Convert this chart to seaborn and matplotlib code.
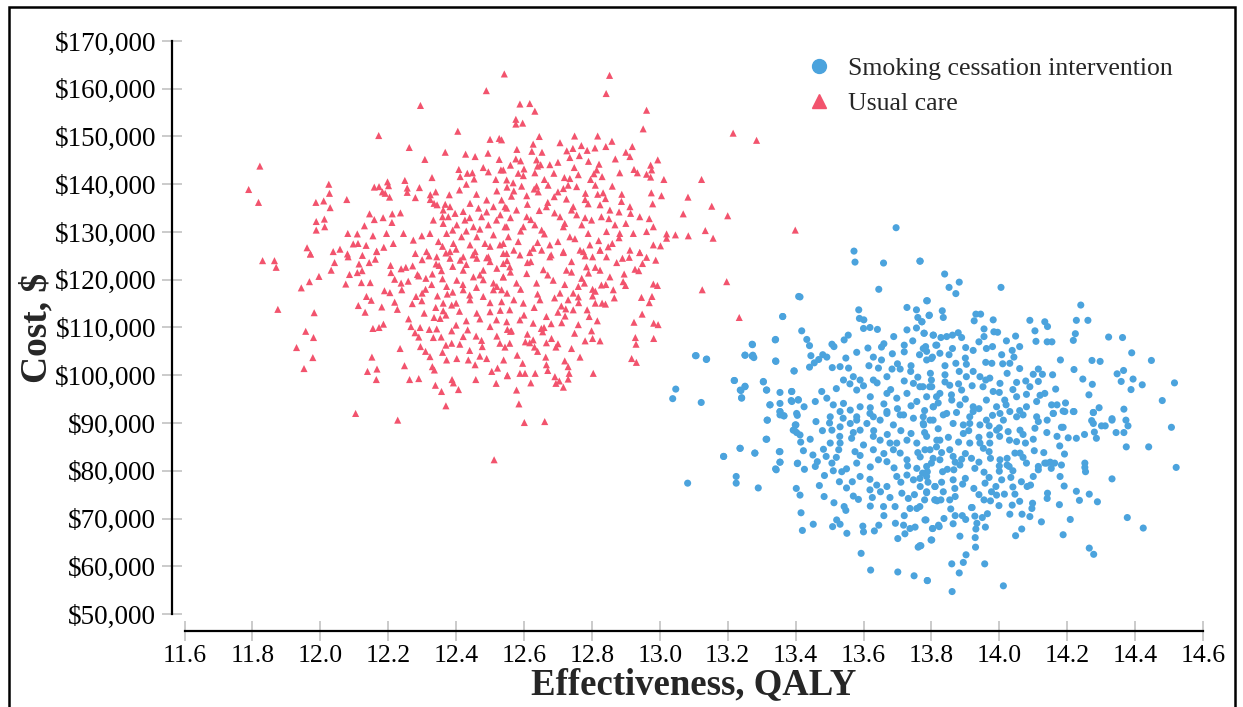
import pandas as pd
import seaborn as sns
import matplotlib.pyplot as plt
from matplotlib.patches import Rectangle
from matplotlib.lines import Line2D
from matplotlib.ticker import FuncFormatter

# (QALY, cost in $1000)
usual_care = [
    (12.542, 163.1), (12.489, 159.6), (12.295, 156.5), (12.405, 151.1), (12.172, 150.2), (12.262, 147.7),
    (12.500, 149.4), (12.527, 149.6), (12.368, 146.7), (12.308, 145.2), (12.428, 146.3), (12.456, 145.8),
    (12.494, 146.5), (12.527, 145.2), (11.822, 143.8), (11.789, 138.9), (11.818, 136.2), (12.025, 140.0),
    (12.027, 138.1), (12.029, 135.1), (11.987, 136.2), (12.010, 136.5), (11.988, 132.2), (12.012, 132.7),
    (11.988, 130.4), (12.013, 131.1), (12.078, 136.8), (11.961, 126.7), (11.971, 125.4), (12.159, 139.4),
    (12.173, 139.5), (12.198, 140.5), (12.201, 139.7), (12.183, 138.4), (12.191, 138.1), (12.204, 137.3),
    (12.249, 140.8), (12.256, 139.2), (12.256, 138.3), (12.292, 139.3), (12.280, 137.2), (12.329, 141.4),
    (12.324, 137.8), (12.324, 136.8), (12.344, 135.7), (12.368, 135.8), (12.408, 143.1), (12.412, 141.6),
    (12.433, 142.3), (12.448, 142.4), (12.453, 141.1), (12.480, 143.5), (12.495, 142.6), (12.517, 141.0),
    (12.539, 143.0), (12.145, 133.8), (12.159, 132.6), (12.185, 133.0), (12.212, 133.8), (12.236, 134.0),
    (12.130, 131.3), (12.081, 129.7), (12.109, 129.6), (12.155, 129.2), (12.195, 129.7), (12.211, 132.0),
    (12.038, 125.9), (12.058, 126.4), (12.080, 125.4), (12.097, 127.5), (12.111, 127.6), (12.135, 127.2),
    (12.166, 126.0), (12.187, 126.8), (12.215, 127.6), (12.245, 129.7), (12.274, 128.3), (12.299, 129.2),
    (12.335, 136.0), (12.362, 134.6), (12.382, 135.3), (12.397, 133.9), (12.421, 134.3), (12.441, 136.0),
    (12.466, 135.0), (12.490, 136.7), (12.510, 135.3), (12.534, 136.7), (12.549, 135.0), (12.333, 132.5),
    (12.362, 131.8), (12.377, 133.2), (12.402, 131.5), (12.426, 132.5), (12.451, 131.1), (12.475, 133.2),
    (12.495, 131.5), (12.519, 132.5), (12.544, 131.1), (12.323, 129.7), (12.348, 128.0), (12.372, 129.7),
    (12.392, 127.6), (12.416, 129.0), (12.441, 127.3), (12.461, 129.0), (12.485, 127.6), (12.510, 129.4),
    (12.529, 127.3), (12.554, 129.0), (12.313, 125.9), (12.343, 124.8), (12.382, 125.9), (12.421, 124.8),
    (12.456, 125.9), (12.495, 124.8), (12.539, 125.5),
    (12.852, 162.8), (12.842, 159.0), (12.588, 156.8), (12.617, 156.9), (12.632, 155.3), (12.576, 153.6),
    (12.576, 152.6), (12.596, 152.8), (12.961, 155.5), (12.951, 151.6), (13.216, 150.7), (13.285, 149.2),
    (12.534, 149.3), (12.645, 150.0), (12.706, 148.7), (12.749, 150.1), (12.817, 150.1), (12.859, 149.0),
    (12.579, 147.3), (12.627, 148.4), (12.623, 146.9), (12.653, 146.7), (12.726, 147.0), (12.744, 147.5),
    (12.769, 148.1), (12.786, 147.1), (12.763, 146.0), (12.735, 145.6), (12.809, 147.6), (12.841, 147.9),
    (12.919, 147.9), (12.900, 146.7), (12.912, 145.8), (12.869, 145.3), (12.994, 145.1), (12.576, 145.3),
    (12.590, 144.9), (12.637, 145.1), (12.676, 144.1), (12.649, 144.1), (12.748, 143.5), (12.821, 144.2),
    (12.814, 143.0), (12.806, 142.2), (12.882, 142.4), (12.924, 143.1), (12.934, 142.4), (12.973, 144.0),
    (12.976, 143.0), (12.961, 142.1), (12.973, 141.5), (13.012, 141.0), (13.123, 141.0), (12.532, 143.0),
    (12.583, 142.3), (12.598, 141.8), (12.632, 142.4), (12.688, 142.3), (12.719, 141.4), (12.735, 141.2),
    (12.796, 141.0), (12.549, 140.9), (12.568, 140.3), (12.593, 139.6), (12.637, 139.6), (12.671, 139.8),
    (12.716, 139.1), (12.755, 139.5), (12.781, 138.1), (12.817, 137.9), (12.833, 138.2), (12.888, 137.9),
    (12.975, 138.2), (13.005, 137.6), (13.083, 137.3), (13.153, 135.4), (13.200, 133.4), (13.069, 133.8),
    (12.563, 137.5), (12.608, 137.6), (12.642, 138.4), (12.689, 137.4), (12.725, 136.9), (12.745, 135.3),
    (12.789, 135.9), (12.824, 135.7), (12.853, 134.6), (12.887, 136.4), (12.912, 135.3), (12.914, 133.9),
    (12.941, 133.2), (12.979, 135.9), (12.969, 132.8), (12.544, 135.3), (12.578, 134.6), (12.608, 133.2),
    (12.645, 134.5), (12.666, 135.3), (12.706, 133.2), (12.755, 133.6), (12.770, 131.5), (12.799, 132.5),
    (12.828, 133.2), (12.868, 131.5), (12.882, 129.7), (12.922, 129.7), (12.961, 130.1), (12.981, 131.1),
    (13.020, 129.6), (13.046, 129.4), (13.084, 129.2), (13.134, 130.3), (13.157, 128.7), (13.399, 130.4),
    (12.549, 131.1), (12.598, 131.1), (12.632, 131.5), (12.652, 130.4), (12.716, 131.1), (12.735, 129.0),
    (12.789, 129.7), (12.843, 130.1), (12.539, 127.6), (12.583, 128.0), (12.627, 126.6), (12.676, 127.3),
    (12.716, 125.9), (12.765, 126.2), (12.794, 127.3), (12.824, 126.2), (12.848, 126.9), (12.912, 126.2),
    (12.941, 125.7), (12.981, 127.3), (13.002, 127.1), (13.020, 128.7),
    (11.830, 124.0), (11.865, 124.0), (11.870, 122.6), (11.971, 125.4), (12.042, 123.6), (12.032, 122.0),
    (11.996, 120.7), (11.968, 119.6), (11.944, 118.3), (11.875, 113.8), (11.982, 113.1), (11.957, 109.2),
    (11.980, 107.9), (11.930, 105.8), (11.978, 103.7), (11.952, 101.4), (12.104, 92.0), (12.228, 90.6),
    (12.512, 82.3), (12.082, 124.8), (12.124, 125.1), (12.162, 124.3), (12.166, 125.9), (12.114, 123.3),
    (12.144, 123.6), (12.086, 121.1), (12.109, 121.5), (12.123, 121.9), (12.075, 119.1), (12.121, 119.4),
    (12.147, 119.4), (12.136, 116.5), (12.150, 115.7), (12.112, 114.6), (12.132, 113.2), (12.181, 114.3),
    (12.189, 117.7), (12.205, 117.3), (12.219, 115.3), (12.227, 113.8), (12.207, 123.0), (12.208, 121.5),
    (12.219, 120.1), (12.238, 122.3), (12.252, 122.6), (12.238, 119.3), (12.240, 117.9), (12.259, 119.7),
    (12.272, 122.9), (12.286, 121.1), (12.282, 116.5), (12.299, 115.6), (12.271, 115.0), (12.306, 113.0),
    (12.311, 120.3), (12.328, 119.0), (12.341, 123.3), (12.357, 121.9), (12.345, 116.6), (12.362, 115.1),
    (12.374, 117.0), (12.387, 114.7), (12.400, 115.1), (12.335, 112.1), (12.353, 111.9), (12.362, 113.5),
    (12.155, 109.8), (12.173, 110.0), (12.186, 110.7), (12.267, 110.2), (12.294, 110.0), (12.321, 109.6),
    (12.343, 109.7), (12.279, 108.9), (12.333, 107.9), (12.356, 108.0), (12.387, 109.3), (12.400, 110.5),
    (12.421, 108.1), (12.434, 109.5), (12.459, 108.2), (12.475, 107.3), (12.477, 106.0), (12.490, 103.5),
    (12.456, 102.2), (12.436, 103.2), (12.411, 106.5), (12.387, 106.7), (12.370, 106.3), (12.402, 103.5),
    (12.372, 103.2), (12.323, 103.9), (12.295, 106.0), (12.235, 105.6), (12.152, 103.8), (12.248, 102.0),
    (12.330, 101.8), (12.336, 101.1), (12.139, 100.8), (12.167, 101.3), (12.165, 99.1), (12.263, 99.1),
    (12.290, 99.3), (12.339, 97.9), (12.357, 96.6), (12.388, 99.1), (12.392, 98.4), (12.407, 97.0),
    (12.370, 93.6), (12.458, 99.1), (12.518, 98.3), (12.505, 100.8), (12.522, 101.5), (12.551, 99.9),
    (12.441, 115.8), (12.461, 113.0), (12.480, 116.5), (12.500, 113.3), (12.519, 111.6), (12.510, 117.9),
    (12.534, 115.4), (12.549, 111.2), (12.421, 122.0), (12.451, 120.6), (12.480, 122.0), (12.510, 119.3),
    (12.539, 120.6), (12.421, 117.9), (12.402, 119.9), (12.372, 118.6), (12.461, 124.5), (12.500, 123.8),
    (12.539, 123.4), (12.382, 124.5), (12.412, 124.1),
    (12.549, 125.5), (12.588, 125.2), (12.617, 125.7), (12.652, 126.2), (12.676, 124.8), (12.716, 125.7),
    (12.775, 125.9), (12.802, 124.8), (12.824, 126.2), (12.843, 124.8), (12.873, 123.6), (12.890, 124.5),
    (12.910, 124.7), (12.941, 125.7), (12.961, 124.7), (12.988, 124.1), (12.949, 123.4), (12.927, 122.2),
    (12.938, 121.9), (12.895, 121.2), (12.892, 119.6), (12.899, 118.8), (12.981, 119.1), (12.993, 118.8),
    (12.863, 117.9), (12.866, 116.2), (12.841, 119.0), (12.828, 118.9), (12.802, 118.0), (12.802, 116.6),
    (12.778, 119.3), (12.770, 120.3), (12.760, 118.6), (12.761, 115.2), (12.745, 113.7), (12.721, 112.4),
    (12.723, 113.9), (12.710, 114.5), (12.711, 111.0), (12.786, 113.7), (12.792, 112.3), (12.816, 111.4),
    (12.810, 115.1), (12.830, 115.1), (12.840, 114.9), (12.799, 109.3), (12.802, 107.7), (12.824, 107.2),
    (12.765, 103.8), (12.749, 108.8), (12.730, 101.8), (12.733, 100.4), (12.691, 99.7), (12.704, 98.8),
    (12.694, 98.3), (12.716, 97.5), (12.730, 99.2), (12.804, 100.4), (12.681, 107.7), (12.694, 105.9),
    (12.666, 106.8), (12.664, 103.8), (12.666, 102.2), (12.655, 109.1), (12.659, 110.0), (12.651, 109.8),
    (12.627, 107.4), (12.631, 105.9), (12.617, 106.8), (12.604, 107.0), (12.563, 109.3), (12.551, 109.6),
    (12.558, 106.7), (12.544, 105.9), (12.529, 106.7), (12.596, 102.5), (12.588, 100.4), (12.603, 100.4),
    (12.633, 100.4), (12.551, 100.0), (12.578, 96.9), (12.585, 94.0), (12.601, 90.1), (12.661, 90.3),
    (12.917, 103.5), (12.931, 102.7), (12.928, 107.9), (12.930, 106.5), (12.982, 107.7), (12.924, 111.1),
    (12.948, 112.8), (12.982, 110.9), (12.995, 110.6), (12.969, 115.2), (12.977, 116.5), (12.946, 116.3),
    (13.125, 117.9), (13.197, 119.6), (13.234, 112.1), (12.558, 122.7), (12.539, 120.6), (12.578, 119.3),
    (12.608, 121.3), (12.637, 119.3), (12.657, 122.1), (12.686, 119.9), (12.725, 122.0), (12.706, 117.2),
    (12.647, 115.8), (12.598, 115.1), (12.558, 113.7), (12.534, 117.9), (12.588, 111.6), (12.627, 110.9),
    (12.666, 112.3), (12.745, 117.2), (12.784, 122.7), (12.824, 122.0), (12.853, 120.6),
    # denser core
    (12.28, 125.5), (12.30, 124.2), (12.32, 125.0), (12.35, 123.0), (12.37, 125.6), (12.39, 122.8),
    (12.43, 123.2), (12.45, 125.2), (12.47, 121.0), (12.49, 124.6), (12.52, 122.4), (12.55, 124.0),
    (12.29, 120.8), (12.31, 118.0), (12.33, 121.2), (12.36, 120.2), (12.39, 117.4), (12.42, 119.0),
    (12.44, 116.8), (12.46, 118.4), (12.48, 120.0), (12.50, 115.2), (12.52, 118.6), (12.55, 117.2),
    (12.30, 117.2), (12.34, 114.2), (12.37, 112.6), (12.41, 113.4), (12.43, 111.4), (12.47, 111.8),
    (12.50, 110.2), (12.53, 113.6), (12.56, 109.2), (12.26, 111.8), (12.29, 108.0), (12.31, 105.0),
    (12.36, 104.8), (12.44, 105.2), (12.47, 104.0), (12.52, 108.2), (12.54, 103.2),
    (12.56, 144.0), (12.60, 143.2), (12.64, 143.8), (12.66, 141.0), (12.70, 144.6), (12.73, 139.8),
    (12.76, 142.0), (12.79, 144.8), (12.83, 141.6), (12.57, 138.6), (12.61, 135.8), (12.63, 139.0),
    (12.67, 136.2), (12.70, 138.4), (12.74, 134.6), (12.78, 136.8), (12.81, 139.8), (12.84, 137.0),
    (12.86, 139.6), (12.56, 133.0), (12.59, 130.2), (12.62, 132.6), (12.66, 129.6), (12.69, 134.0),
    (12.72, 131.8), (12.75, 128.6), (12.78, 133.0), (12.82, 128.2), (12.85, 132.8), (12.88, 134.2),
    (12.90, 131.8), (12.57, 126.2), (12.61, 123.6), (12.64, 127.8), (12.68, 125.2), (12.70, 128.0),
    (12.74, 123.8), (12.78, 125.0), (12.81, 122.6), (12.86, 127.6), (12.88, 128.8),
    (12.56, 121.6), (12.59, 118.0), (12.62, 123.8), (12.64, 117.0), (12.67, 121.0), (12.69, 116.2),
    (12.72, 119.0), (12.74, 121.6), (12.76, 116.4), (12.79, 121.4), (12.81, 117.6), (12.57, 115.8),
    (12.60, 112.6), (12.63, 114.2), (12.68, 110.8), (12.70, 113.2), (12.73, 115.8), (12.76, 110.6),
    (12.61, 108.6), (12.58, 104.2), (12.64, 105.0), (12.70, 106.6), (12.74, 105.6), (12.78, 107.2),
    (12.72, 103.0), (12.67, 101.0), (12.62, 98.4),
    (12.34, 138.4), (12.38, 137.8), (12.41, 138.8), (12.46, 137.9), (12.52, 138.6), (12.55, 139.4),
    (12.43, 140.0), (12.36, 133.2), (12.44, 133.0), (12.49, 134.2), (12.53, 133.6), (12.39, 130.4),
    (12.43, 130.2), (12.47, 130.6), (12.50, 127.0), (12.36, 127.0), (12.40, 126.4),
]

cessation = [
    (13.409, 116.5), (13.362, 112.3), (13.340, 107.4), (13.272, 106.5), (13.251, 104.2), (13.272, 104.0),
    (13.277, 103.7), (13.341, 103.0), (13.105, 104.1), (13.137, 103.3), (13.395, 100.9), (13.219, 98.9),
    (13.237, 96.9), (13.251, 97.6), (13.241, 95.3), (13.305, 98.6), (13.314, 96.9), (13.354, 96.4),
    (13.388, 96.6), (13.387, 94.7), (13.408, 94.9), (13.047, 97.1), (13.038, 95.1), (13.122, 94.3),
    (13.324, 93.8), (13.354, 92.4), (13.365, 91.5), (13.405, 91.6), (13.316, 90.6), (13.399, 89.6),
    (13.393, 88.5), (13.403, 88.0), (13.313, 86.6), (13.236, 84.7), (13.280, 83.7), (13.188, 83.0),
    (13.352, 84.0), (13.354, 81.8), (13.405, 81.5), (13.341, 80.4),
    (13.696, 130.9), (13.572, 126.0), (13.575, 123.7), (13.659, 123.5), (13.767, 123.9), (13.645, 118.0),
    (13.413, 116.4), (13.362, 112.3), (13.586, 113.7), (13.588, 111.9), (13.601, 111.6), (13.600, 109.8),
    (13.619, 110.0), (13.641, 109.6), (13.728, 114.2), (13.756, 113.7), (13.788, 115.6), (13.760, 112.1),
    (13.772, 111.2), (13.794, 112.6), (13.728, 109.5), (13.756, 109.9), (13.779, 108.8), (13.806, 108.4),
    (13.418, 109.3), (13.433, 107.5), (13.441, 106.2), (13.341, 107.5), (13.273, 106.4), (13.274, 104.2),
    (13.251, 104.2), (13.342, 102.9), (13.107, 104.1), (13.138, 103.4), (13.220, 98.9), (13.251, 97.7),
    (13.239, 96.8), (13.241, 95.2), (13.305, 98.7), (13.315, 96.9), (13.389, 96.6), (13.396, 100.9),
    (13.445, 104.1), (13.455, 102.6), (13.480, 104.3), (13.507, 106.5), (13.513, 106.0), (13.492, 103.8),
    (13.508, 101.6), (13.441, 101.7), (13.468, 103.3), (13.548, 103.6), (13.543, 107.4), (13.555, 108.4),
    (13.613, 105.7), (13.629, 103.8), (13.653, 103.2), (13.653, 105.9), (13.685, 104.5), (13.689, 108.1),
    (13.720, 106.3), (13.720, 104.9), (13.745, 107.2), (13.765, 104.3), (13.783, 106.0), (13.786, 103.2),
    (13.803, 103.8), (13.816, 106.3), (13.616, 102.0), (13.644, 101.5), (13.669, 99.7), (13.684, 101.3),
    (13.708, 101.3), (13.739, 100.8), (13.747, 98.3), (13.775, 97.6), (13.801, 97.6), (13.531, 101.8),
    (13.556, 101.5), (13.541, 99.0), (13.570, 99.7), (13.590, 99.0), (13.629, 99.0), (13.580, 96.9),
    (13.620, 95.5), (13.669, 96.2), (13.698, 95.2), (13.728, 96.2), (13.757, 94.5), (13.786, 95.5),
    (13.806, 93.4), (13.354, 94.1), (13.389, 94.5), (13.408, 94.8), (13.425, 93.4), (13.458, 94.5),
    (13.477, 96.6), (13.492, 95.2), (13.511, 93.8), (13.541, 94.1), (13.561, 92.7), (13.502, 91.3),
    (13.531, 92.4), (13.590, 93.4), (13.629, 91.3), (13.669, 92.4), (13.708, 91.7), (13.747, 91.0),
    (13.325, 93.8), (13.354, 91.7), (13.403, 92.0),
    (13.766, 123.9), (13.839, 121.2), (13.852, 118.4), (13.882, 119.5), (13.872, 117.1), (14.005, 118.4),
    (13.786, 115.6), (13.832, 113.5), (13.793, 112.5), (13.835, 112.1), (13.772, 111.2), (13.931, 112.8),
    (13.945, 112.8), (13.926, 111.4), (13.982, 111.6), (14.090, 111.5), (14.134, 111.2), (14.142, 110.2),
    (14.105, 109.3), (14.108, 107.1), (14.048, 108.2), (14.141, 107.0), (14.155, 107.0), (14.240, 114.7),
    (14.227, 111.5), (14.261, 111.5), (14.224, 108.7), (14.218, 107.3), (14.322, 108.0), (14.363, 107.9),
    (14.390, 104.7), (14.448, 103.1), (14.273, 103.1), (14.297, 102.9), (14.347, 100.3), (14.366, 101.0),
    (14.359, 98.7), (14.394, 99.2), (14.421, 98.0), (14.388, 97.0), (14.516, 98.4), (14.480, 94.7),
    (14.246, 99.2), (14.274, 98.1), (14.264, 95.9), (14.294, 93.2), (14.277, 92.2), (14.367, 92.9),
    (14.332, 90.9), (14.157, 100.1), (14.166, 97.1), (14.195, 94.2), (14.188, 92.5), (14.220, 92.4),
    (14.115, 101.3), (14.100, 100.2), (14.127, 100.2), (14.115, 98.7), (14.134, 96.2), (14.110, 94.5),
    (14.154, 93.8), (14.170, 93.8), (14.159, 92.0), (14.090, 97.6), (14.078, 98.8), (14.051, 98.5),
    (14.023, 100.4), (14.038, 105.2), (14.043, 103.8), (14.031, 102.5), (14.007, 104.3), (14.010, 102.4),
    (14.021, 107.2), (13.984, 109.1), (13.995, 109.0), (13.955, 109.7), (13.955, 108.1), (13.962, 105.6),
    (13.978, 102.5), (13.960, 102.7), (13.923, 105.2), (13.901, 105.8), (13.879, 108.9), (13.889, 107.9),
    (13.862, 108.4), (13.845, 108.1), (13.828, 107.9), (13.805, 108.4), (13.778, 108.8), (13.776, 105.6),
    (13.813, 106.3), (13.786, 105.0), (13.800, 103.5), (13.825, 104.6), (13.852, 104.3), (13.862, 105.6),
    (13.872, 102.5), (13.903, 102.3), (13.882, 100.8), (13.923, 100.8), (13.840, 100.1), (13.797, 100.4),
    (13.766, 97.6), (13.795, 97.6), (13.825, 96.2), (13.854, 97.9), (13.859, 95.9), (13.889, 96.9),
    (13.903, 99.7), (13.943, 99.7), (13.972, 99.4), (13.952, 97.6), (13.982, 96.6), (14.002, 98.3),
    (14.016, 94.8), (14.051, 95.5), (14.080, 93.4), (14.031, 92.4), (13.992, 93.4), (13.962, 94.8),
    (13.923, 93.4), (13.884, 93.8), (13.845, 92.0), (13.805, 93.4), (13.776, 91.3), (13.815, 95.5),
    (13.913, 91.3), (14.110, 91.3),
    (13.082, 77.4), (13.188, 83.0), (13.237, 84.7), (13.225, 78.8), (13.225, 77.4), (13.280, 83.7),
    (13.290, 76.4), (13.315, 86.6), (13.317, 90.6), (13.354, 84.0), (13.354, 81.8), (13.343, 80.2),
    (13.366, 91.5), (13.354, 92.4), (13.401, 89.6), (13.396, 88.5), (13.413, 87.5), (13.415, 86.0),
    (13.406, 81.6), (13.426, 80.3), (13.402, 76.3), (13.413, 74.9), (13.416, 71.2), (13.420, 67.5),
    (13.452, 68.8), (13.423, 84.2), (13.451, 83.3), (13.443, 86.6), (13.460, 90.3), (13.479, 88.4),
    (13.482, 84.5), (13.464, 81.9), (13.458, 80.9), (13.485, 79.0), (13.470, 76.9), (13.484, 74.6),
    (13.507, 81.6), (13.511, 80.0), (13.529, 77.7), (13.536, 79.8), (13.513, 73.3), (13.543, 72.5),
    (13.548, 71.7), (13.521, 69.7), (13.509, 68.3), (13.531, 68.8), (13.551, 66.9), (13.593, 62.7),
    (13.598, 68.4), (13.600, 67.2), (13.645, 68.6), (13.632, 67.4), (13.621, 59.2), (13.701, 58.8),
    (13.749, 58.0), (13.788, 57.0), (13.761, 64.0), (13.769, 64.3), (13.801, 65.5), (13.701, 65.8),
    (13.722, 66.8), (13.694, 69.0), (13.718, 68.6), (13.737, 67.9), (13.752, 68.2), (13.784, 69.7),
    (13.804, 67.9), (13.821, 68.6), (13.570, 74.7), (13.585, 74.0), (13.626, 74.4), (13.619, 76.0),
    (13.619, 78.2), (13.639, 77.0), (13.659, 72.5), (13.678, 74.4), (13.693, 72.5), (13.669, 76.7),
    (13.698, 78.8), (13.713, 75.3), (13.732, 74.2), (13.737, 72.1), (13.757, 72.1), (13.780, 73.9),
    (13.786, 75.6), (13.811, 73.9), (13.767, 76.7), (13.747, 78.1), (13.728, 79.1), (13.786, 78.8),
    (13.811, 76.7), (13.580, 81.6), (13.567, 77.7), (13.575, 84.0), (13.565, 86.8), (13.531, 85.8),
    (13.527, 84.4), (13.502, 85.8), (13.507, 88.5), (13.531, 89.2), (13.561, 89.9), (13.580, 91.3),
    (13.610, 89.9), (13.629, 87.2), (13.649, 86.4), (13.629, 84.4), (13.644, 82.3), (13.669, 81.9),
    (13.688, 84.4), (13.708, 83.7), (13.728, 82.3), (13.698, 85.8), (13.678, 85.8), (13.728, 86.4),
    (13.757, 85.8), (13.777, 89.6), (13.796, 90.6), (13.816, 86.4), (13.796, 84.4), (13.767, 82.9),
    (13.786, 80.9), (13.757, 80.5), (13.688, 89.6), (13.649, 90.6), (13.718, 91.7), (13.669, 92.0),
    (13.590, 88.5), (13.619, 92.0),
    (14.507, 89.1), (14.440, 85.0), (14.521, 80.7), (14.332, 78.3), (14.377, 70.2), (14.424, 68.0),
    (14.265, 63.8), (14.278, 62.5), (14.188, 66.6), (14.209, 69.8), (14.177, 72.9), (14.236, 73.8),
    (14.289, 73.5), (14.265, 75.1), (14.227, 75.7), (14.141, 74.2), (14.142, 75.3), (14.191, 76.8),
    (14.179, 78.8), (14.153, 80.5), (14.134, 81.6), (14.150, 81.8), (14.163, 81.6), (14.183, 81.2),
    (14.252, 81.6), (14.252, 80.7), (14.254, 79.8), (14.124, 69.3), (14.066, 67.8), (14.048, 66.4),
    (14.012, 55.9), (13.957, 60.5), (13.882, 58.6), (13.861, 54.7), (13.788, 57.0), (13.860, 60.5),
    (13.894, 60.8), (13.902, 62.4), (13.930, 64.0), (13.929, 66.0), (13.884, 66.3), (13.799, 65.5),
    (13.766, 64.3), (13.803, 67.9), (13.823, 68.3), (13.864, 68.9), (13.934, 69.0), (13.959, 68.2),
    (13.837, 70.0), (13.781, 69.7), (13.931, 67.8), (13.920, 72.3), (13.965, 71.0), (13.928, 70.5),
    (13.891, 70.6), (13.901, 69.8), (13.857, 72.0), (13.999, 72.7), (14.031, 70.9), (14.067, 70.9),
    (14.090, 70.4), (14.096, 72.1), (14.038, 72.8), (14.098, 73.2), (14.015, 75.1), (14.046, 75.1),
    (13.992, 74.9), (13.977, 75.6), (13.955, 73.9), (13.974, 73.7), (13.918, 72.3), (13.854, 73.9),
    (13.810, 73.9), (13.817, 73.7), (13.828, 73.9), (13.786, 75.4), (13.810, 76.7), (13.869, 76.3),
    (13.892, 77.2), (13.925, 76.3), (13.958, 77.4), (13.990, 76.7), (14.007, 78.1), (14.034, 78.6),
    (14.082, 76.7), (14.092, 77.0), (14.065, 77.7), (14.029, 80.9), (14.023, 81.2), (14.000, 79.9),
    (13.955, 79.7), (13.928, 80.5), (13.884, 81.2), (13.866, 80.2), (13.847, 80.3), (13.833, 79.8),
    (13.788, 79.8), (13.774, 79.5), (13.805, 82.6), (13.825, 82.3), (13.864, 83.0), (13.889, 82.4),
    (13.918, 82.6), (13.974, 82.6), (14.002, 82.3), (14.023, 82.6), (14.046, 83.7), (14.061, 83.7),
    (14.080, 81.6), (14.103, 84.2), (14.115, 80.9), (14.115, 80.2), (14.131, 83.8), (14.139, 81.6),
    (14.192, 83.5), (14.178, 85.2), (14.188, 89.1), (14.183, 89.1), (14.170, 87.2), (14.203, 86.9),
    (14.227, 86.8), (14.251, 87.6), (14.280, 88.1), (14.286, 86.8), (14.301, 89.4), (14.312, 89.4),
    (14.332, 90.6), (14.344, 88.0), (14.367, 88.0), (14.373, 90.6), (14.379, 89.4), (14.374, 85.0),
    (14.272, 90.5), (14.277, 89.9), (14.277, 92.2), (14.218, 92.4), (14.193, 92.4), (14.159, 92.0),
    (14.141, 90.6), (14.115, 90.3), (14.105, 88.9), (14.070, 91.7), (14.051, 91.3), (14.061, 88.5),
    (14.051, 86.1), (14.077, 85.8), (14.026, 88.2), (13.992, 88.5), (14.001, 87.2), (13.972, 87.5),
    (13.972, 85.8), (13.943, 85.8), (13.953, 84.7), (13.913, 85.8), (13.894, 87.8), (13.913, 89.9),
    (13.894, 89.6), (13.864, 89.9), (13.835, 91.7), (13.805, 90.6), (13.776, 89.9), (13.786, 87.2),
    (13.825, 86.4), (13.815, 85.0), (13.854, 84.4), (13.781, 84.4), (14.002, 92.0), (13.962, 90.6),
    (13.943, 89.6), (14.012, 90.6), (13.874, 92.2), (13.923, 92.4), (13.766, 78.4), (13.835, 75.6),
    (13.864, 78.1), (13.766, 72.5),
    # denser core
    (13.52, 97.2), (13.56, 98.2), (13.60, 97.8), (13.64, 98.4), (13.68, 97.0), (13.72, 98.8),
    (13.76, 99.6), (13.80, 99.0), (13.84, 98.6), (13.88, 98.2), (13.92, 97.8), (13.96, 99.0),
    (14.00, 96.4), (14.04, 97.0), (14.08, 96.0), (13.50, 90.0), (13.54, 91.0), (13.58, 90.6),
    (13.62, 93.2), (13.66, 94.0), (13.70, 93.0), (13.74, 93.6), (13.78, 92.6), (13.82, 94.2),
    (13.86, 94.8), (13.90, 95.0), (13.94, 93.0), (13.98, 91.6), (14.02, 93.8), (14.06, 92.6),
    (14.12, 95.8), (13.49, 83.0), (13.53, 87.2), (13.57, 88.0), (13.60, 85.4), (13.63, 88.4),
    (13.67, 87.6), (13.71, 88.4), (13.74, 87.8), (13.78, 88.0), (13.82, 88.8), (13.85, 87.0),
    (13.88, 86.0), (13.91, 88.4), (13.94, 87.0), (13.97, 89.4), (14.00, 89.0), (14.03, 86.4),
    (14.07, 87.6), (14.10, 86.6), (14.14, 88.0), (13.52, 82.8), (13.55, 80.4), (13.59, 83.2),
    (13.62, 80.8), (13.66, 83.6), (13.69, 80.6), (13.73, 81.0), (13.76, 83.8), (13.80, 81.6),
    (13.83, 83.8), (13.87, 81.8), (13.90, 83.6), (13.94, 81.8), (13.97, 84.0), (14.00, 81.0),
    (14.04, 80.0), (14.07, 82.8), (14.10, 78.8), (13.55, 76.4), (13.59, 78.8), (13.62, 72.6),
    (13.65, 75.6), (13.71, 77.6), (13.75, 75.0), (13.79, 77.6), (13.83, 77.6), (13.87, 74.6),
    (13.90, 78.4), (13.94, 75.0), (13.97, 78.6), (14.04, 76.6), (14.06, 73.6), (13.87, 70.6),
    (13.95, 70.2), (13.72, 70.6), (13.66, 70.6), (13.58, 104.8), (13.66, 106.6), (13.70, 102.4),
    (13.74, 102.0), (13.84, 102.0), (13.90, 103.6), (13.94, 107.0), (13.98, 106.0), (14.06, 106.0),
    (14.18, 103.2), (14.22, 101.2), (14.06, 101.4),
]

group_names = ["Smoking cessation intervention", "Usual care"]
group_colors = ["#4ba3dd", "#f2536d"]
x_ticks = [11.6, 11.8, 12.0, 12.2, 12.4, 12.6, 12.8, 13.0, 13.2, 13.4, 13.6, 13.8, 14.0, 14.2, 14.4, 14.6]
y_ticks = list(range(50000, 170001, 10000))

rows = []
for name, pts in zip(group_names, [cessation, usual_care]):
    for q, c in pts:
        rows.append({"qaly": q, "cost": c * 1000, "group": name})
df = pd.DataFrame(rows)

sns.set_style("white")
plt.rcParams["font.family"] = ["Liberation Serif", "DejaVu Serif"]

fig = plt.figure(figsize=(12.43, 7.07), dpi=100)
ax = fig.add_axes([184.5 / 1243, 1 - 614 / 707, (1203 - 184.5) / 1243, 573 / 707])

palette = dict(zip(group_names, group_colors))
markers = {group_names[0]: "o", group_names[1]: "^"}
sns.scatterplot(data=df, x="qaly", y="cost", hue="group", style="group",
                palette=palette, markers=markers, s=26, linewidth=0,
                ax=ax, legend=False, clip_on=False)

ax.set_xlim(11.6, 14.6)
ax.set_ylim(50000, 170000)
ax.set_xticks(x_ticks)
ax.set_yticks(y_ticks)
ax.xaxis.set_major_formatter(FuncFormatter(lambda v, p: f"{v:.1f}"))
ax.yaxis.set_major_formatter(FuncFormatter(lambda v, p: f"${v:,.0f}"))

for s in ["top", "right"]:
    ax.spines[s].set_visible(False)
ax.spines["left"].set_position(("outward", 9))
ax.spines["bottom"].set_position(("outward", 12))
ax.spines["left"].set_bounds(50000, 170000)
ax.spines["bottom"].set_bounds(11.6, 14.6)
for s in ["left", "bottom"]:
    ax.spines[s].set_linewidth(1.6)
    ax.spines[s].set_color("black")

# seaborn's white style hides ticks, turn them back on
ax.tick_params(axis="both", left=True, bottom=True, direction="inout", length=15,
               width=1.1, color="#bdbdbd", labelcolor="black")
ax.tick_params(axis="x", pad=3, labelsize=18.5)
ax.tick_params(axis="y", pad=4, labelsize=19.5)

ax.set_xlabel("Effectiveness, QALY", fontsize=26.5, fontweight="bold")
ax.set_ylabel("Cost, $", fontsize=27, fontweight="bold")
ax.xaxis.set_label_coords(0.5, -0.092)
ax.yaxis.set_label_coords(-0.128, 0.5)
ax.grid(False)

handles = [
    Line2D([], [], linestyle="none", marker="o", markersize=10, color=group_colors[0]),
    Line2D([], [], linestyle="none", marker="^", markersize=10, color=group_colors[1]),
]
fig.legend(handles, group_names, loc="upper left", bbox_to_anchor=(806 / 1243, 1 - 57 / 707),
           frameon=False, fontsize=18.5, handlelength=1.0, handletextpad=0.63,
           labelspacing=0.47, borderpad=0, borderaxespad=0)

fig.patches.append(Rectangle((9 / 1243, -0.05), (1235 - 9) / 1243, 1.05 - 7 / 707,
                             transform=fig.transFigure, fill=False, lw=1.8, edgecolor="black"))

fig.savefig("out.png", dpi=100)
